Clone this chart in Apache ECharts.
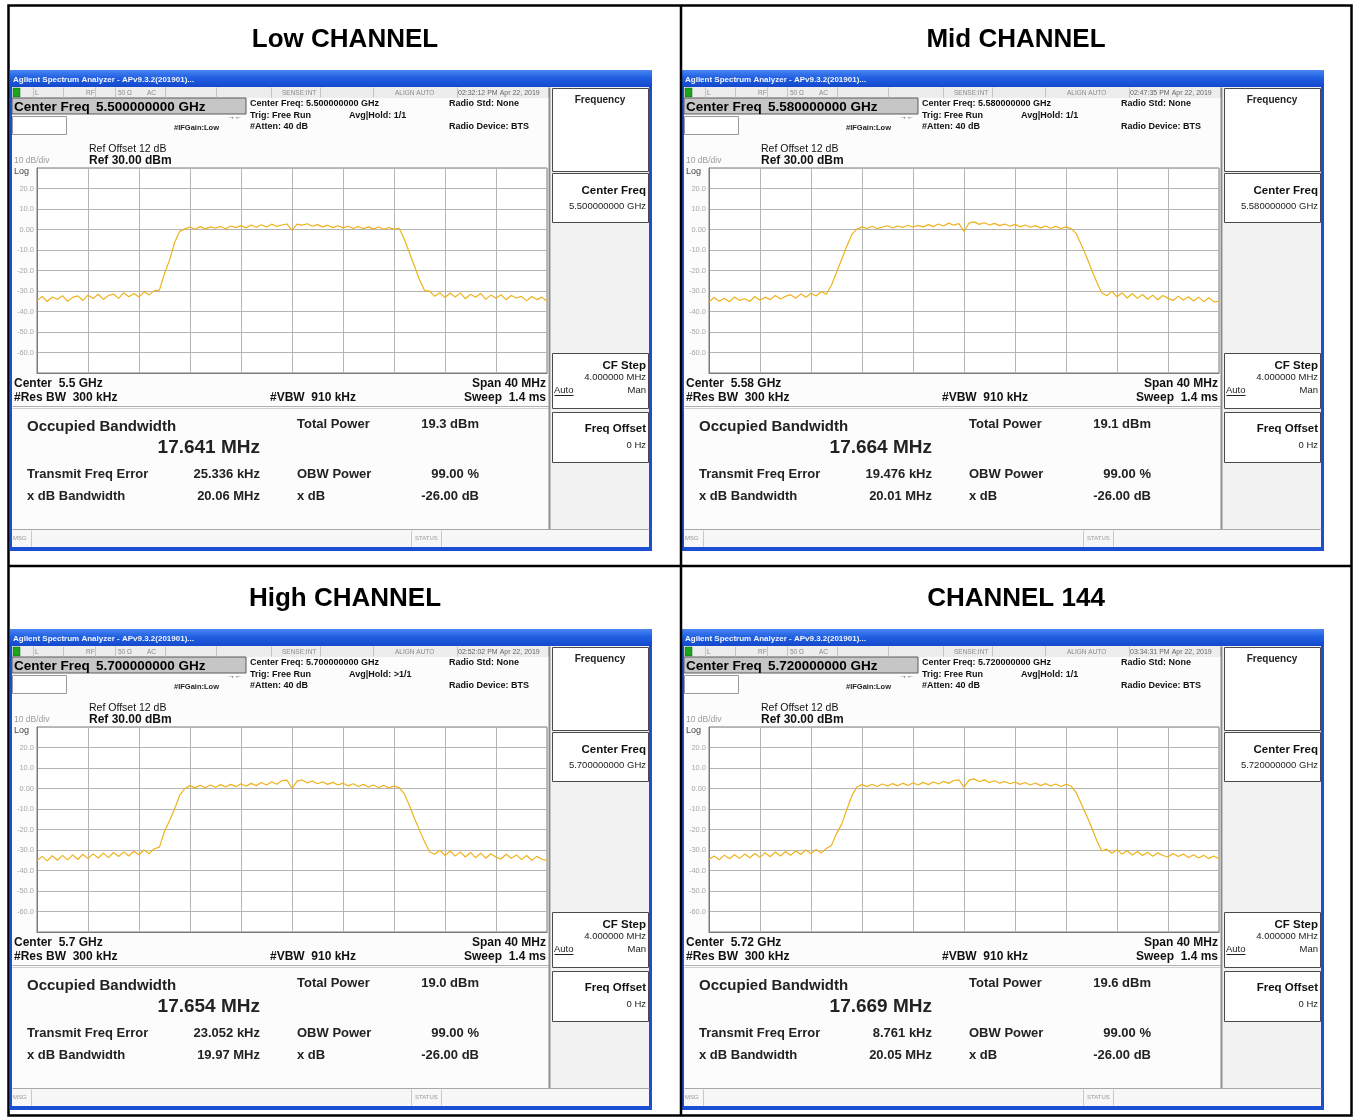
<!DOCTYPE html>
<html><head><meta charset="utf-8">
<script src="https://cdn.jsdelivr.net/npm/echarts@6/dist/echarts.min.js"></script>
<style>html,body{margin:0;padding:0;background:#fff}#c{width:1356px;height:1118px}</style>
</head><body><div id="c"></div>
<script>
// ---------------- data ----------------
const channelTitles = ['Low CHANNEL', 'Mid CHANNEL', 'High CHANNEL', 'CHANNEL 144'];
const centerFreqGHz = ['5.500000000', '5.580000000', '5.700000000', '5.720000000'];
const centerShortGHz = ['5.5', '5.58', '5.7', '5.72'];
const timestamps = ['02:32:12 PM Apr 22, 2019', '02:47:35 PM Apr 22, 2019', '02:52:02 PM Apr 22, 2019', '03:34:31 PM Apr 22, 2019'];
const avgHold = ['1/1', '1/1', '>1/1', '1/1'];
const occupiedBW = ['17.641 MHz', '17.664 MHz', '17.654 MHz', '17.669 MHz'];
const totalPower = ['19.3 dBm', '19.1 dBm', '19.0 dBm', '19.6 dBm'];
const freqError = ['25.336 kHz', '19.476 kHz', '23.052 kHz', '8.761 kHz'];
const xdBBandwidth = ['20.06 MHz', '20.01 MHz', '19.97 MHz', '20.05 MHz'];
const obwPower = '99.00 %';
const xdBValue = '-26.00 dB';
const refLevel = 30, bottomLevel = -70, dbPerDiv = 10;
const spanMHz = 40, sweepStepMHz = 0.4;

// trace levels (dBm), sweep points from -20 MHz to +20 MHz offset, 0.4 MHz apart
const traceLow = [
 -34.8,-32.6,-35.1,-32.9,-34.0,-32.3,-35.0,-33.1,-32.4,-34.6,-32.0,-33.7,-31.6,-34.1,-32.2,-31.5,-33.6,-30.9,-32.8,-31.2,-32.9,-30.4,-31.9,-29.8,-29.6,
 -21.5,-14.8,-6.2,-0.9,
 0.3,1.2,0.1,1.4,0.3,1.3,0.6,1.5,0.4,1.7,0.9,1.9,0.8,2.2,1.1,2.3,1.2,2.6,1.5,2.2,2.7,-0.3,2.6,2.1,2.8,1.6,2.4,1.3,2.1,0.9,1.8,0.8,1.6,0.5,1.5,0.4,1.3,0.3,1.2,0.1,1.0,0.2,0.6,
 -4.5,-11.2,-17.8,-24.5,-29.8,
 -30.1,-32.6,-30.8,-33.2,-31.0,-32.9,-30.9,-33.8,-31.6,-33.0,-31.2,-34.1,-32.0,-33.5,-31.8,-34.3,-32.2,-33.4,-32.6,-34.8,-32.7,-34.2,-33.0,-35.0
];
const traceMid = [
 -35.4,-33.2,-35.0,-33.6,-35.3,-32.9,-34.6,-33.8,-35.1,-32.7,-34.5,-33.0,-34.2,-32.2,-33.9,-32.6,-31.8,-33.5,-31.4,-33.0,-31.1,-32.4,-30.4,-31.6,-27.2,
 -21.0,-14.6,-8.3,-2.4,
 0.2,1.3,0.5,1.6,0.4,1.2,1.8,0.7,1.7,1.0,2.1,1.1,2.0,1.3,2.4,1.4,2.7,1.7,3.1,2.1,2.9,-1.0,3.2,3.7,2.5,3.3,2.2,3.0,1.9,2.7,1.6,2.5,1.3,2.2,1.1,1.9,0.8,1.7,0.6,1.5,0.5,1.3,0.4,
 -2.0,-7.5,-13.2,-19.5,-25.5,-30.8,
 -32.3,-30.2,-32.8,-30.9,-33.4,-31.2,-33.6,-31.7,-34.0,-32.0,-34.3,-32.2,-33.6,-34.6,-32.5,-34.4,-32.8,-34.9,-33.0,-35.2,-33.3,-35.3,-35.0
];
const traceHigh = [
 -35.2,-33.1,-35.3,-32.8,-35.0,-32.6,-34.8,-32.4,-34.5,-32.1,-34.2,-31.9,-33.9,-31.5,-33.7,-31.2,-33.2,-30.9,-32.9,-30.6,-32.3,-30.0,-31.8,-29.4,-28.6,
 -21.0,-15.6,-9.8,-3.2,
 0.0,1.4,0.3,1.6,0.4,1.7,0.6,1.9,0.7,2.0,0.9,2.3,1.1,2.5,1.4,2.9,1.7,3.3,2.1,3.8,4.1,0.1,3.6,4.2,2.7,3.7,2.3,3.3,2.0,3.0,1.7,2.6,1.3,2.3,1.0,2.0,0.7,1.7,0.5,1.5,0.3,1.2,0.4,
 -2.5,-8.2,-14.5,-20.3,-26.0,-31.0,
 -32.1,-30.1,-32.7,-30.5,-33.0,-30.9,-33.4,-31.2,-33.8,-31.5,-34.0,-31.8,-33.5,-34.4,-32.1,-34.0,-32.4,-34.7,-32.7,-35.0,-33.1,-34.5,-35.1
];
const trace144 = [
 -34.6,-32.9,-34.8,-32.5,-34.3,-32.3,-34.1,-32.0,-33.8,-31.7,-33.6,-31.3,-33.3,-31.0,-32.9,-30.7,-32.6,-30.4,-32.2,-30.0,-31.9,-29.7,-31.5,-29.3,-27.8,
 -22.0,-17.5,-10.5,-3.5,
 0.7,1.9,0.9,2.1,1.0,2.2,1.2,2.4,1.3,2.6,1.5,2.8,1.7,3.0,1.9,3.2,2.2,3.5,2.5,3.9,4.2,0.7,4.1,4.7,3.3,4.2,2.9,3.8,2.6,3.4,2.3,3.2,2.0,2.9,1.7,2.7,1.4,2.4,1.2,2.2,1.0,2.0,1.2,
 -2.0,-7.6,-13.0,-18.8,-25.2,-30.5,
 -29.6,-31.6,-29.9,-32.0,-30.4,-32.4,-30.7,-32.7,-31.1,-33.0,-31.4,-32.7,-33.4,-31.7,-33.2,-32.0,-33.7,-32.3,-33.9,-32.6,-34.1,-32.9,-34.3
];
const traces = [traceLow, traceMid, traceHigh, trace144];

// ---------------- layout ----------------
const FONT = '"Liberation Sans", Arial, Helvetica, sans-serif';
const f = (w, s) => w + ' ' + s + 'px ' + FONT;
const origins = [[10, 70], [682, 70], [10, 629], [682, 629]];
const titlePos = [[345, 40], [1016, 40], [345, 599], [1016, 599]];
const TDY = 1.5;

const elements = [];
function panel(k, ox, oy) {
  const E = elements;
  const rect = (x, y, w, h, fill, stroke, lw, z) => E.push({type: 'rect', silent: true, z: z == null ? 1 : z,
    shape: {x: ox + x, y: oy + y, width: w, height: h},
    style: {fill: fill || 'none', stroke: stroke || 'none', lineWidth: lw || 1}});
  const line = (x1, y1, x2, y2, c, lw, z) => E.push({type: 'line', silent: true, z: z == null ? 2 : z,
    shape: {x1: ox + x1 + 0.5, y1: oy + y1 + 0.5, x2: ox + x2 + 0.5, y2: oy + y2 + 0.5},
    style: {stroke: c, lineWidth: lw || 1}});
  const text = (x, y, s, font, color, align) => E.push({type: 'text', silent: true, z: 3,
    x: ox + x, y: oy + y + TDY,
    style: {text: s, font: font, fill: color || '#111', align: align || 'left', textAlign: align || 'left',
      verticalAlign: 'middle', textVerticalAlign: 'middle'}});

  // frame + title bar
  rect(0, 0, 642, 481, '#1a4fd4', null, 0, -3);
  rect(0, 0, 642, 17, new echarts.graphic.LinearGradient(0, 0, 0, 1, [
    {offset: 0, color: '#4a86f2'}, {offset: 0.45, color: '#2160e2'}, {offset: 1, color: '#1448cc'}]), null, 0, -2);
  text(3, 8, 'Agilent Spectrum Analyzer - APv9.3.2(201901)...', f('bold', 8), '#f2f6ff');
  rect(2, 17, 637, 460, '#fcfcfc', null, 0, -2);

  // status row
  rect(2, 17, 538, 11, '#ededed', null, 0, -1);
  [23, 53, 85, 105, 155, 206, 261, 310, 363, 447, 538].forEach(x => line(x, 17, x, 27, '#c4c4c4', 1));
  rect(3, 18, 7, 9, '#1ea51e', '#0c600c', 0.5);
  text(25, 21.5, 'L', f('normal', 6.5), '#8a8a8a');
  text(76, 21.5, 'RF', f('normal', 6.5), '#8a8a8a');
  text(108, 21.5, '50 Ω', f('normal', 6.5), '#8a8a8a');
  text(137, 21.5, 'AC', f('normal', 6.5), '#8a8a8a');
  text(272, 21.5, 'SENSE:INT', f('normal', 6.5), '#8a8a8a');
  text(385, 21.5, 'ALIGN AUTO', f('normal', 6.5), '#8a8a8a');
  text(448, 21.5, timestamps[k], f('normal', 7), '#666');

  // header info
  rect(2, 28, 234, 16, '#c6c6c6', '#5a5a5a', 1);
  text(4, 35.5, 'Center Freq', f('bold', 13.5), '#000');
  text(86, 35.5, centerFreqGHz[k] + ' GHz', f('bold', 13.5), '#000');
  rect(2.5, 46.5, 54, 18, '#fff', '#9a9a9a', 1);
  text(225, 46, '→←', f('bold', 7), '#333', 'center');
  text(164, 56, '#IFGain:Low', f('bold', 7.5), '#222');
  text(240, 32, 'Center Freq: ' + centerFreqGHz[k] + ' GHz', f('bold', 9), '#111');
  text(240, 44, 'Trig: Free Run', f('bold', 9), '#111');
  text(240, 55, '#Atten: 40 dB', f('bold', 9), '#111');
  text(339, 44, 'Avg|Hold: ' + avgHold[k], f('bold', 9), '#111');
  text(439, 32, 'Radio Std: None', f('bold', 9), '#111');
  text(439, 55, 'Radio Device: BTS', f('bold', 9), '#111');
  text(79, 78, 'Ref Offset 12 dB', f('normal', 10.5), '#111');
  text(79, 89, 'Ref 30.00 dBm', f('bold', 12), '#111');
  text(4, 89, '10 dB/div', f('normal', 8.5), '#9a9a9a');
  text(4, 100, 'Log', f('normal', 9), '#444');

  // under plot
  text(4, 312, 'Center  ' + centerShortGHz[k] + ' GHz', f('bold', 12), '#111');
  text(4, 326, '#Res BW  300 kHz', f('bold', 12), '#111');
  text(260, 326, '#VBW  910 kHz', f('bold', 12), '#111');
  text(536, 312, 'Span 40 MHz', f('bold', 12), '#111', 'right');
  text(536, 326, 'Sweep  1.4 ms', f('bold', 12), '#111', 'right');
  line(2, 336, 539, 336, '#b0b0b0', 1);
  line(2, 338, 539, 338, '#d0d0d0', 1);

  // results
  text(17, 355, 'Occupied Bandwidth', f('bold', 15), '#222');
  text(250, 376, occupiedBW[k], f('bold', 19), '#222', 'right');
  text(287, 353, 'Total Power', f('bold', 13), '#222');
  text(469, 353, totalPower[k], f('bold', 13), '#222', 'right');
  text(17, 403, 'Transmit Freq Error', f('bold', 13), '#222');
  text(250, 403, freqError[k], f('bold', 13), '#222', 'right');
  text(287, 403, 'OBW Power', f('bold', 13), '#222');
  text(469, 403, obwPower, f('bold', 13), '#222', 'right');
  text(17, 425, 'x dB Bandwidth', f('bold', 13), '#222');
  text(250, 425, xdBBandwidth[k], f('bold', 13), '#222', 'right');
  text(287, 425, 'x dB', f('bold', 13), '#222');
  text(469, 425, xdBValue, f('bold', 13), '#222', 'right');

  // soft keys
  rect(541, 17, 98, 442, '#f2f2f2', null, 0, -1);
  line(539, 17, 539, 459, '#8c8c8c', 2);
  rect(542.5, 18.5, 96, 83, '#fefefe', '#4a4a4a', 1);
  text(590, 29, 'Frequency', f('bold', 10), '#222', 'center');
  rect(542.5, 103.5, 96, 49, '#fefefe', '#4a4a4a', 1);
  text(636, 119, 'Center Freq', f('bold', 11.5), '#111', 'right');
  text(636, 135, centerFreqGHz[k] + ' GHz', f('normal', 9.5), '#222', 'right');
  rect(542.5, 283.5, 96, 55, '#fefefe', '#4a4a4a', 1);
  text(636, 294, 'CF Step', f('bold', 11.5), '#111', 'right');
  text(636, 306, '4.000000 MHz', f('normal', 9.5), '#222', 'right');
  text(544, 319, 'Auto', f('normal', 9.5), '#222');
  line(544, 325, 563, 325, '#222', 1);
  text(636, 319, 'Man', f('normal', 9.5), '#222', 'right');
  rect(542.5, 342.5, 96, 50, '#fefefe', '#4a4a4a', 1);
  text(636, 357, 'Freq Offset', f('bold', 11.5), '#111', 'right');
  text(636, 374, '0 Hz', f('normal', 9.5), '#222', 'right');

  // bottom status bar
  line(2, 459, 639, 459, '#a8a8a8', 1);
  rect(2, 460, 637, 17, '#f7f7f7', null, 0, -1);
  [21, 401, 431].forEach(x => line(x, 460, x, 476, '#c8c8c8', 1));
  text(3, 467, 'MSG', f('normal', 6), '#999');
  text(405, 467, 'STATUS', f('normal', 6), '#999');
}
origins.forEach((o, k) => panel(k, o[0], o[1]));

// table and titles
channelTitles.forEach((t, k) => elements.push({type: 'text', silent: true, z: 5,
  x: titlePos[k][0], y: titlePos[k][1],
  style: {text: t, font: f('bold', 26), fill: '#000', align: 'center', textAlign: 'center',
    verticalAlign: 'middle', textVerticalAlign: 'middle'}}));
elements.push({type: 'rect', silent: true, z: 10, shape: {x: 8.5, y: 5.5, width: 1343, height: 1110},
  style: {fill: 'none', stroke: '#000', lineWidth: 2.5}});
elements.push({type: 'line', silent: true, z: 10, shape: {x1: 681, y1: 5, x2: 681, y2: 1116}, style: {stroke: '#000', lineWidth: 2.5}});
elements.push({type: 'line', silent: true, z: 10, shape: {x1: 8, y1: 566, x2: 1352, y2: 566}, style: {stroke: '#000', lineWidth: 2.5}});

// ---------------- chart ----------------
const grids = [], xAxes = [], yAxes = [], series = [];
origins.forEach((o, k) => {
  grids.push({left: o[0] + 27, top: o[1] + 98, width: 510, height: 205, show: true,
    backgroundColor: '#ffffff', borderColor: '#7a7a7a', borderWidth: 1, containLabel: false});
  xAxes.push({type: 'value', gridIndex: k, min: -spanMHz / 2, max: spanMHz / 2, interval: 4,
    axisLabel: {show: false}, axisTick: {show: false},
    axisLine: {show: true, onZero: false, lineStyle: {color: '#7a7a7a'}},
    splitLine: {show: true, lineStyle: {color: '#b4b4b4', width: 1}}});
  yAxes.push({type: 'value', gridIndex: k, min: bottomLevel, max: refLevel, interval: dbPerDiv,
    axisTick: {show: false}, axisLine: {show: true, onZero: false, lineStyle: {color: '#7a7a7a'}},
    splitLine: {show: true, lineStyle: {color: '#b4b4b4', width: 1}},
    axisLabel: {show: true, margin: 3, fontSize: 7.5, color: '#a8a8a8', fontFamily: FONT,
      formatter: v => (v === refLevel || v === bottomLevel) ? '' : (v === 0 ? '0.00' : v.toFixed(1))}});
  const pts = traces[k].map((v, i) => [-spanMHz / 2 + i * sweepStepMHz, v]);
  series.push({type: 'line', xAxisIndex: k, yAxisIndex: k, data: pts, symbol: 'none', smooth: false,
    lineStyle: {color: '#efb21c', width: 1.2}, z: 4, animation: false});
});

const chart = echarts.init(document.getElementById('c'), null, {renderer: 'canvas'});
chart.setOption({
  animation: false,
  backgroundColor: '#ffffff',
  grid: grids, xAxis: xAxes, yAxis: yAxes, series: series,
  graphic: {elements: elements}
});
</script></body></html>
